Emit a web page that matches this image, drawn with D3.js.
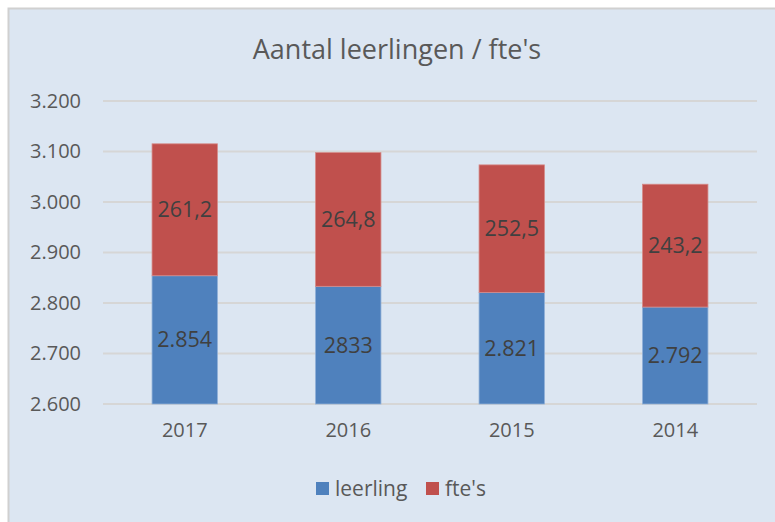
<!DOCTYPE html>
<html lang="nl">
<head>
<meta charset="UTF-8">
<title>Aantal leerlingen / fte's</title>
<script src="https://d3js.org/d3.v7.min.js"></script>
<style>
  body { margin: 0; background: #fff; }
  text { font-family: "Open Sans", "Noto Sans", sans-serif; }
</style>
</head>
<body>
<script>
var years = ["2017", "2016", "2015", "2014"];
var leerling = [2854, 2833, 2821, 2792];
var fte = [261.2, 264.8, 252.5, 243.2];
var leerlingLabels = ["2.854", "2833", "2.821", "2.792"];
var fteLabels = ["261,2", "264,8", "252,5", "243,2"];
var yTicks = [2600, 2700, 2800, 2900, 3000, 3100, 3200];

var W = 775, H = 522;
var svg = d3.select("body").append("svg")
    .attr("width", W)
    .attr("height", H);

svg.append("rect")
    .attr("x", 8.5).attr("y", 8.5)
    .attr("width", W).attr("height", H)
    .attr("fill", "#dce6f2")
    .attr("stroke", "#d0d0d0")
    .attr("stroke-width", 2);

var x = d3.scaleBand().domain(years).range([103, 757]).paddingInner(0.6).paddingOuter(0.3);
var y = d3.scaleLinear().domain([2600, 3200]).range([404, 101]);

// gridlines
svg.append("g").selectAll("line")
    .data(yTicks)
    .join("line")
    .attr("x1", 103).attr("x2", 757)
    .attr("y1", d => y(d)).attr("y2", d => y(d))
    .attr("stroke", "#d6d6d6")
    .attr("stroke-width", 2);

var fmt = d3.formatLocale({decimal: ",", thousands: ".", grouping: [3], currency: ["", ""]}).format(",.0f");

var yAxis = d3.axisLeft(y).tickValues(yTicks).tickSize(0).tickPadding(0).tickFormat(fmt);
var gy = svg.append("g").attr("transform", "translate(81,0)").call(yAxis);
gy.select(".domain").remove();
gy.selectAll("text").attr("font-size", 20).attr("fill", "#595959")
    .attr("font-family", "'Open Sans', sans-serif");

var xAxis = d3.axisBottom(x).tickSize(0).tickPadding(0);
var gx = svg.append("g").attr("transform", "translate(0,423)").call(xAxis);
gx.select(".domain").remove();
gx.selectAll("text").attr("font-size", 20).attr("fill", "#595959")
    .attr("font-family", "'Open Sans', sans-serif");

var rows = years.map((yr, i) => ({year: yr, l: leerling[i], f: fte[i], ll: leerlingLabels[i], fl: fteLabels[i]}));

var bars = svg.append("g");
bars.selectAll(".blue").data(rows).join("rect")
    .attr("x", d => x(d.year))
    .attr("width", x.bandwidth())
    .attr("y", d => y(d.l))
    .attr("height", d => y(2600) - y(d.l))
    .attr("fill", "#4f81bd")
    .attr("stroke", "#8fb0d8").attr("stroke-width", 0.8);

bars.selectAll(".red").data(rows).join("rect")
    .attr("x", d => x(d.year))
    .attr("width", x.bandwidth())
    .attr("y", d => y(d.l + d.f))
    .attr("height", d => y(d.l) - y(d.l + d.f))
    .attr("fill", "#c0504d")
    .attr("stroke", "#d58a88").attr("stroke-width", 0.8);

var labels = svg.append("g").attr("font-size", 21.5).attr("fill", "#404040").attr("text-anchor", "middle");
labels.selectAll(".lb").data(rows).join("text")
    .attr("x", d => x(d.year) + x.bandwidth() / 2)
    .attr("y", d => (y(d.l) + y(2600)) / 2)
    .attr("dy", "0.35em")
    .text(d => d.ll);
labels.selectAll(".lf").data(rows).join("text")
    .attr("x", d => x(d.year) + x.bandwidth() / 2)
    .attr("y", d => (y(d.l) + y(d.l + d.f)) / 2)
    .attr("dy", "0.35em")
    .text(d => d.fl);

svg.append("text")
    .attr("x", 397).attr("y", 59)
    .attr("text-anchor", "middle")
    .attr("font-size", 27)
    .attr("fill", "#595959")
    .text("Aantal leerlingen / fte's");

// legend
var legend = [{name: "leerling", color: "#4f81bd", x: 316}, {name: "fte's", color: "#c0504d", x: 426}];
var lg = svg.append("g").selectAll("g").data(legend).join("g")
    .attr("transform", d => "translate(" + d.x + ",482)");
lg.append("rect").attr("width", 13).attr("height", 13).attr("fill", d => d.color);
lg.append("text").attr("x", 19).attr("y", 14).attr("font-size", 21).attr("fill", "#595959").text(d => d.name);
</script>
</body>
</html>
